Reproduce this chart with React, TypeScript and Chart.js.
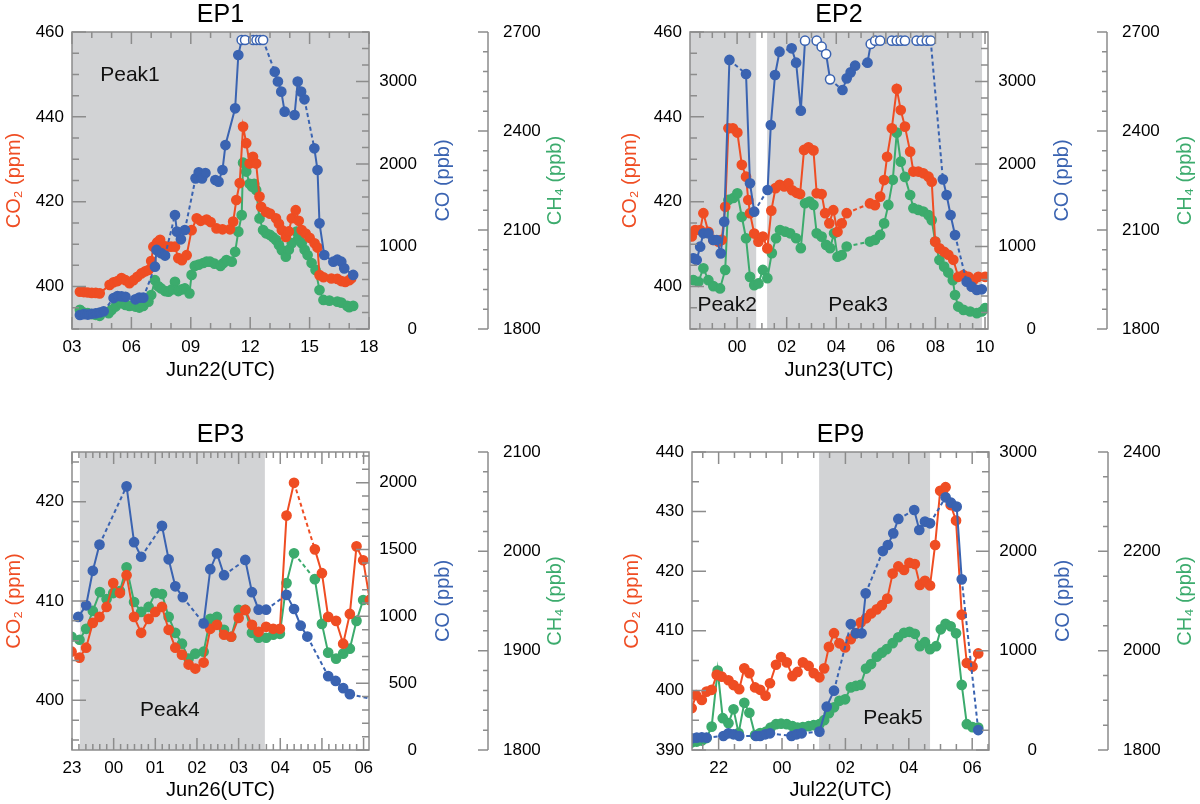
import React, { useEffect, useRef } from 'react';
import { Chart, registerables } from 'chart.js';

Chart.register(...registerables);

const RED = '#ef4d23';
const BLUE = '#3a63b1';
const GREEN = '#3cab6d';
const SHADE = '#d2d3d5';
const AXIS = '#8c8c8c';
const FONT = "'Liberation Sans', Arial, Helvetica, sans-serif";

// [hours, value] or [hours, value, 1] for flagged (open) points; null = data gap
type Pt = [number, number] | [number, number, number] | null;

// ---- EP1, Jun22 ----
const ep1Co2: Pt[] = [
  [3.4, 398.8], [3.6, 398.7], [3.8, 398.6], [4.0, 398.5], [4.2, 398.5], [4.4, 398.4], [4.9, 400.4], [5.1, 401.0],
  [5.3, 401.3], [5.5, 402.0], [5.7, 401.5], [5.9, 400.8], [6.1, 401.5], [6.3, 402.3], [6.5, 403.1], [6.7, 403.6],
  [6.86, 403.9], [7.0, 406.0], [7.11, 409.4], [7.3, 410.4], [7.45, 411.0], [7.6, 409.6], [7.79, 409.4], [8.0, 409.4],
  [8.2, 409.4], [8.37, 406.7], [8.55, 406.2], [8.79, 407.4], [9.04, 413.3], [9.3, 416.1], [9.5, 415.5], [9.8, 415.8],
  [10.0, 415.2], [10.3, 413.7], [10.6, 413.5], [10.98, 413.5], [11.14, 415.3], [11.3, 420.4], [11.47, 424.4],
  [11.64, 437.7], [11.8, 433.8], [11.97, 429.0], [12.14, 430.6], [12.3, 429.0], [12.47, 421.2], [12.55, 418.8],
  [12.8, 417.6], [13.0, 417.2], [13.3, 416.1], [13.45, 414.8], [13.6, 413.3], [13.8, 411.7], [13.95, 413.0],
  [14.1, 416.1], [14.3, 418.0], [14.45, 415.5], [14.6, 413.3], [14.8, 412.5], [15.0, 411.5], [15.25, 410.2],
  [15.4, 409.2], [15.5, 402.7], [15.7, 402.2], [16.1, 401.9], [16.4, 401.8], [16.6, 401.3], [16.8, 401.1],
  [17.0, 401.5], [17.1, 401.9],
];
const ep1Ch4: Pt[] = [
  [3.4, 1858], [3.6, 1850], [3.8, 1848], [4.0, 1845], [4.2, 1843], [4.4, 1840], [4.85, 1848], [5.0, 1858],
  [5.2, 1868], [5.5, 1878], [5.7, 1873], [5.9, 1870], [6.2, 1868], [6.4, 1865], [6.6, 1870], [6.86, 1883],
  [7.0, 1903], [7.19, 1948], [7.35, 1930], [7.5, 1923], [7.7, 1915], [7.87, 1913], [8.05, 1920], [8.2, 1943],
  [8.37, 1915], [8.55, 1920], [8.7, 1923], [8.93, 1908], [9.04, 1964], [9.2, 1991], [9.4, 1995], [9.63, 2000],
  [9.8, 2004], [9.97, 2004], [10.2, 1998], [10.5, 1991], [10.65, 2000], [10.8, 2009], [11.07, 2004], [11.24, 2034],
  [11.4, 2095], [11.57, 2145], [11.64, 2304], [11.8, 2277], [11.97, 2240], [12.1, 2231], [12.2, 2240], [12.3, 2221],
  [12.47, 2135], [12.65, 2100], [12.8, 2090], [13.0, 2085], [13.15, 2078], [13.3, 2070], [13.45, 2055], [13.6, 2039],
  [13.8, 2019], [13.95, 2040], [14.1, 2060], [14.34, 2095], [14.45, 2075], [14.6, 2060], [14.75, 2040], [14.9, 2024],
  [15.1, 2000], [15.3, 1979], [15.5, 1918], [15.7, 1888], [16.0, 1886], [16.4, 1883], [16.6, 1880], [16.9, 1870],
  [17.0, 1866], [17.2, 1870],
];
const ep1Co: Pt[] = [
  [3.4, 170], [3.6, 180], [3.8, 175], [4.0, 185], [4.2, 190], [4.4, 200], [4.6, 215], null,
  [5.1, 375], [5.3, 400], [5.5, 395], [5.7, 390], null, [6.2, 360], [6.4, 380], [6.6, 380], null,
  [7.19, 755], [7.27, 958], [7.5, 920], [7.7, 890], null, [8.2, 1382], [8.3, 1180], [8.5, 1087], [8.7, 1200], null,
  [9.24, 1826], [9.4, 1900], [9.57, 1826], [9.74, 1890], null, [10.24, 1806], [10.4, 1786], [10.6, 1927],
  [10.75, 2230], [11.24, 2675], [11.4, 3321], [11.57, 3503, 1], [11.74, 3503, 1], null,
  [12.15, 3503, 1], [12.32, 3503, 1], [12.5, 3503, 1], [12.65, 3503, 1], null,
  [13.24, 3119], [13.4, 3000], [13.57, 2877], [13.74, 2634], null, [14.24, 2594], [14.4, 3000], [14.57, 2877],
  [14.74, 2784], null, [15.24, 2190], [15.4, 1927], [15.5, 1281], [15.74, 897], [16.2, 816], [16.4, 840],
  [16.6, 816], [16.75, 735], [17.2, 655],
];

// ---- EP2, Jun23 ----
const ep2Co2: Pt[] = [
  [-1.83, 411.8], [-1.69, 413.3], [-1.49, 413.3], [-1.36, 417.3], [-1.16, 412.9], [-0.96, 411.0], [-0.75, 410.6],
  [-0.62, 411.0], [-0.48, 418.8], [-0.35, 437.3], [-0.17, 437.3], [0.01, 436.3], [0.19, 428.7], [0.36, 425.9],
  [0.45, 420.4], [0.52, 417.3], [0.69, 412.5], [0.86, 410.6], [1.04, 411.8], [1.22, 409.0], [1.38, 417.9],
  [1.55, 423.2], [1.72, 424.0], [1.9, 423.6], [2.07, 424.3], [2.22, 422.7], [2.4, 422.1], [2.54, 421.8],
  [2.7, 432.2], [2.88, 432.8], [3.08, 432.1], [3.21, 422.0], [3.41, 421.8], [3.55, 417.3], [3.72, 414.9],
  [3.88, 418.0], [4.05, 412.9], [4.22, 414.9], [4.42, 417.3], null, [5.36, 419.6], [5.56, 419.2], [5.77, 421.2],
  [5.93, 425.1], [6.05, 430.6], [6.24, 437.3], [6.44, 446.6], [6.6, 441.6], [6.77, 437.7], [6.98, 431.8],
  [7.11, 427.1], [7.31, 427.1], [7.51, 426.7], [7.72, 425.9], [7.85, 424.7], [7.99, 410.6], [8.16, 409.0],
  [8.35, 408.2], [8.52, 407.5], [8.72, 406.3], [8.92, 402.3], [9.13, 402.7], [9.33, 402.3], [9.53, 401.5],
  [9.73, 402.3], [10.0, 402.3],
];
const ep2Ch4: Pt[] = [
  [-1.76, 1948], [-1.56, 1943], [-1.36, 1984], [-1.16, 1948], [-0.96, 1930], [-0.69, 1923], [-0.48, 1979],
  [-0.35, 2191], [-0.15, 2197], [0.01, 2211], [0.19, 2140], [0.36, 2075], [0.52, 1958], [0.69, 1933], [0.86, 1938],
  [1.04, 1979], [1.22, 1954], [1.4, 2030], [1.57, 2075], [1.73, 2100], [1.94, 2095], [2.14, 2090], [2.38, 2075],
  [2.57, 2045], [2.74, 2181], [2.92, 2186], [3.08, 2176], [3.21, 2090], [3.41, 2080], [3.59, 2055], [3.75, 2045],
  [3.91, 2090], [4.05, 2019], [4.22, 2024], [4.42, 2050], null, [5.36, 2065], [5.56, 2070], [5.77, 2085],
  [5.93, 2120], [6.1, 2176], [6.28, 2252], [6.44, 2395], [6.6, 2307], [6.77, 2261], [6.98, 2206], [7.11, 2166],
  [7.31, 2161], [7.51, 2156], [7.72, 2145], [7.85, 2130], [7.99, 2065], [8.16, 2009], [8.35, 1989], [8.52, 1971],
  [8.7, 1948], [8.79, 1903], [8.92, 1868], [9.13, 1858], [9.4, 1853], [9.67, 1848], [9.87, 1853], [10.0, 1863],
];
const ep2Co: Pt[] = [
  [-1.76, 857], [-1.63, 837], [-1.49, 998], [-1.36, 1160], [-1.16, 1160], [-0.96, 1079], [-0.82, 1079],
  [-0.66, 917], [-0.52, 1301], [-0.31, 3261], null, [0.36, 3091], [0.52, 1766], [0.69, 1422], null,
  [1.23, 1685], [1.36, 2473], [1.53, 3079], [1.71, 3361], null, [2.2, 3402], [2.38, 3228], [2.57, 2646],
  [2.74, 3495, 1], null, [3.21, 3495, 1], [3.41, 3422, 1], [3.59, 3333, 1], [3.75, 3026, 1], null,
  [4.25, 2897], [4.42, 3038], [4.58, 3111], [4.76, 3192], null, [5.26, 3228], [5.39, 3455, 1], [5.57, 3495, 1],
  [5.77, 3495, 1], null, [6.24, 3495, 1], [6.44, 3495, 1], [6.6, 3495, 1], [6.77, 3495, 1], null,
  [7.24, 3495, 1], [7.44, 3495, 1], [7.65, 3495, 1], [7.81, 3495, 1], null, [8.3, 1814], [8.45, 1624],
  [8.61, 1382], [8.79, 1139], null, [9.26, 573], [9.46, 513], [9.67, 473], [9.87, 481],
];

// ---- EP3, Jun26 ----
const ep3Co2: Pt[] = [
  [-1.01, 404.9], [-0.82, 404.3], [-0.66, 405.3], [-0.5, 407.8], [-0.34, 408.4], [-0.17, 409.4], [-0.01, 411.8],
  [0.15, 410.8], [0.31, 412.6], [0.49, 408.4], [0.66, 406.8], [0.84, 408.2], [1.0, 408.9], [1.16, 409.4],
  [1.32, 407.1], [1.48, 405.3], [1.64, 404.6], [1.8, 403.6], [1.96, 403.2], [2.16, 403.8], [2.32, 407.2],
  [2.48, 407.6], [2.65, 406.6], [2.82, 406.4], [3.0, 408.3], [3.16, 409.1], [3.32, 407.6], [3.48, 406.9],
  [3.66, 407.4], [3.83, 407.2], [3.99, 407.2], [4.15, 418.6], [4.33, 421.9], null, [4.83, 415.2], [5.0, 412.8],
  [5.15, 408.4], [5.34, 408.0], [5.51, 405.7], [5.67, 408.7], [5.83, 415.5], [5.99, 414.1], [6.15, 410.1],
];
const ep3Ch4: Pt[] = [
  [-1.01, 1914], [-0.82, 1911], [-0.66, 1922], [-0.5, 1940], [-0.33, 1959], [-0.17, 1952], [-0.01, 1958],
  [0.15, 1960], [0.31, 1984], [0.49, 1949], [0.66, 1939], [0.84, 1944], [1.0, 1958], [1.16, 1957], [1.32, 1934],
  [1.48, 1918], [1.64, 1907], [1.8, 1892], [1.96, 1897], [2.16, 1899], [2.32, 1932], [2.48, 1934], [2.65, 1921],
  [2.82, 1914], [3.0, 1941], [3.16, 1941], [3.32, 1918], [3.48, 1913], [3.66, 1913], [3.83, 1916], [3.99, 1917],
  [4.15, 1968], [4.33, 1998], null, [4.83, 1972], [5.0, 1927], [5.15, 1898], [5.34, 1892], [5.51, 1897],
  [5.67, 1902], [5.83, 1930], [5.99, 1951], [6.15, 1951],
];
const ep3Co: Pt[] = [
  [-0.85, 996], [-0.66, 1083], [-0.5, 1341], [-0.34, 1537], null, [0.31, 1973], [0.49, 1555], [0.66, 1446], null,
  [1.16, 1677], [1.32, 1427], [1.48, 1225], [1.66, 1144], null, [2.16, 947], [2.32, 1353], [2.48, 1471],
  [2.65, 1308], null, [3.16, 1422], [3.32, 1181], [3.48, 1050], [3.66, 1050], null, [4.15, 1161], [4.33, 1055],
  [4.49, 930], [4.65, 849], null, [5.15, 553], [5.33, 517], [5.51, 463], [5.67, 418], null, [6.5, 360],
];

// ---- EP9, Jul22 ----
const ep9Co2: Pt[] = [
  [-2.85, 397.0], [-2.71, 399.2], [-2.53, 398.4], [-2.38, 399.8], [-2.22, 400.1], [-2.06, 402.6], [-1.9, 402.3],
  [-1.69, 401.7], [-1.53, 400.9], [-1.35, 400.2], [-1.19, 403.7], [-1.03, 402.9], [-0.85, 400.5], [-0.69, 400.1],
  [-0.52, 399.1], [-0.38, 401.2], [-0.19, 404.3], [-0.03, 405.6], [0.15, 404.7], [0.33, 402.4], [0.49, 403.1],
  [0.66, 404.7], [0.84, 404.1], [1.0, 402.9], [1.18, 402.2], [1.33, 403.7], [1.48, 407.3], [1.64, 409.6],
  [1.81, 407.9], [1.99, 407.2], [2.17, 408.6], [2.33, 409.6], [2.48, 411.4], [2.65, 412.1], [2.81, 412.9],
  [2.99, 413.6], [3.15, 414.3], [3.32, 415.4], [3.49, 419.6], [3.67, 420.8], [3.85, 420.2], [4.02, 421.4],
  [4.19, 421.2], [4.35, 417.7], [4.51, 418.4], [4.67, 417.6], [4.83, 424.4], [4.99, 433.5], [5.16, 434.1],
  [5.32, 431.1], [5.49, 428.5], [5.67, 412.7], [5.83, 404.6], [6.01, 404.0], [6.19, 406.2],
];
const ep9Ch4: Pt[] = [
  [-2.85, 1815], [-2.69, 1817], [-2.53, 1819], [-2.38, 1824], [-2.22, 1847], [-2.03, 1960], [-1.87, 1864],
  [-1.69, 1854], [-1.53, 1882], [-1.37, 1834], [-1.19, 1895], [-1.03, 1875], [-0.85, 1830], [-0.69, 1834],
  [-0.5, 1837], [-0.36, 1845], [-0.19, 1852], [-0.03, 1853], [0.15, 1852], [0.33, 1848], [0.49, 1845],
  [0.66, 1846], [0.84, 1848], [1.0, 1850], [1.18, 1852], [1.33, 1860], [1.48, 1874], [1.64, 1886], [1.81, 1899],
  [1.99, 1902], [2.17, 1926], [2.33, 1929], [2.48, 1931], [2.65, 1964], [2.81, 1973], [2.99, 1988], [3.15, 1996],
  [3.3, 2003], [3.49, 2015], [3.67, 2027], [3.85, 2036], [4.02, 2038], [4.19, 2034], [4.35, 2009], [4.51, 2017],
  [4.67, 2003], [4.86, 2009], [5.01, 2043], [5.16, 2054], [5.32, 2049], [5.49, 2035], [5.67, 1931], [5.83, 1852],
  [6.01, 1846], [6.19, 1845],
];
const ep9Co: Pt[] = [
  [-2.85, 117], [-2.69, 124], [-2.53, 128], [-2.38, 124], null, [-1.85, 141], [-1.69, 168], [-1.53, 158],
  [-1.35, 141], null, [-0.82, 141], [-0.69, 141], [-0.53, 158], [-0.38, 168], null, [0.3, 141], [0.46, 158],
  [0.62, 168], null, [1.18, 185], [1.41, 436], [1.64, 597], null, [2.17, 1268], [2.33, 1175], [2.51, 1175],
  [2.64, 1577], null, [3.18, 2003], [3.34, 2064], [3.51, 2181], [3.67, 2326], null, [4.17, 2416], [4.33, 2215],
  [4.51, 2299], [4.67, 2282], null, [5.16, 2544], [5.33, 2490], [5.51, 2450], [5.67, 1718], null, [6.19, 201],
];

interface AxisSpec { min: number; max: number; step: number; minor: number }
interface Peak { text: string; x: number; y: number }
interface PanelSpec {
  left: number; top: number;
  title: string; xTitle: string;
  x: AxisSpec; co2: AxisSpec; co: AxisSpec; ch4: AxisSpec;
  shades: [number, number][];
  peaks: Peak[];
  co2Data: Pt[]; coData: Pt[]; ch4Data: Pt[];
  leftW: number; coW: number; gapW: number; ch4W: number; xAxisH: number;
  leftTitlePad: number; coTitleOff: number; ch4TitleOff: number;
}

const panels: PanelSpec[] = [
  {
    left: 0, top: 0, title: 'EP1', xTitle: 'Jun22(UTC)',
    x: { min: 3, max: 18, step: 3, minor: 1 },
    co2: { min: 390, max: 460, step: 20, minor: 5 },
    co: { min: 0, max: 3600, step: 1000, minor: 200 },
    ch4: { min: 1800, max: 2700, step: 300, minor: 60 },
    shades: [[3, 18]],
    peaks: [{ text: 'Peak1', x: 5.93, y: 449.9 }],
    co2Data: ep1Co2, coData: ep1Co, ch4Data: ep1Ch4,
    leftW: 72, coW: 48, gapW: 71, ch4W: 112, xAxisH: 55,
    leftTitlePad: 2, coTitleOff: 74, ch4TitleOff: 67,
  },
  {
    left: 600, top: 0, title: 'EP2', xTitle: 'Jun23(UTC)',
    x: { min: -1.9, max: 10.12, step: 2, minor: 0.5 },
    co2: { min: 390, max: 460, step: 20, minor: 5 },
    co: { min: 0, max: 3600, step: 1000, minor: 200 },
    ch4: { min: 1800, max: 2700, step: 300, minor: 60 },
    shades: [[-1.9, 0.77], [1.21, 9.88]],
    peaks: [{ text: 'Peak2', x: -0.4, y: 395.7 }, { text: 'Peak3', x: 4.88, y: 395.7 }],
    co2Data: ep2Co2, coData: ep2Co, ch4Data: ep2Ch4,
    leftW: 90, coW: 48, gapW: 71, ch4W: 93, xAxisH: 55,
    leftTitlePad: 18, coTitleOff: 74, ch4TitleOff: 78,
  },
  {
    left: 0, top: 420, title: 'EP3', xTitle: 'Jun26(UTC)',
    x: { min: -1, max: 6.13, step: 1, minor: 1 / 6 },
    co2: { min: 395, max: 425, step: 10, minor: 2 },
    co: { min: 0, max: 2230, step: 500, minor: 100 },
    ch4: { min: 1800, max: 2100, step: 100, minor: 20 },
    shades: [[-0.81, 3.63]],
    peaks: [{ text: 'Peak4', x: 1.35, y: 399 }],
    co2Data: ep3Co2, coData: ep3Co, ch4Data: ep3Ch4,
    leftW: 72, coW: 48, gapW: 71, ch4W: 112, xAxisH: 54,
    leftTitlePad: 2, coTitleOff: 74, ch4TitleOff: 67,
  },
  {
    left: 600, top: 420, title: 'EP9', xTitle: 'Jul22(UTC)',
    x: { min: -2.84, max: 6.53, step: 2, minor: 0.5 },
    co2: { min: 390, max: 440, step: 10, minor: 5 },
    co: { min: 0, max: 3000, step: 1000, minor: 200 },
    ch4: { min: 1800, max: 2400, step: 200, minor: 50 },
    shades: [[1.17, 4.67]],
    peaks: [{ text: 'Peak5', x: 3.5, y: 395.4 }],
    co2Data: ep9Co2, coData: ep9Co, ch4Data: ep9Ch4,
    leftW: 92, coW: 48, gapW: 71, ch4W: 92, xAxisH: 54,
    leftTitlePad: 20, coTitleOff: 74, ch4TitleOff: 77,
  },
];

function steps(min: number, max: number, step: number): number[] {
  const out: number[] = [];
  const n0 = Math.ceil(min / step - 1e-6);
  const n1 = Math.floor(max / step + 1e-6);
  for (let n = n0; n <= n1; n++) out.push(+(n * step).toFixed(6));
  return out;
}
const isMajor = (v: number, major: number) => Math.abs(v / major - Math.round(v / major)) < 1e-4;
const hh = (v: number) => String(((Math.round(v) % 24) + 24) % 24).padStart(2, '0');

function toPoints(arr: Pt[]) {
  return arr.map((p, i) => {
    if (p) return { x: p[0], y: p[1], open: p[2] === 1 };
    const a = arr[i - 1] as number[];
    const b = arr[i + 1] as number[];
    return { x: (a[0] + b[0]) / 2, y: null, open: false };
  });
}

function makePlugin(spec: PanelSpec) {
  return {
    id: 'frameTicks',
    beforeDatasetsDraw(chart: any) {
      const { ctx, chartArea: a } = chart;
      const xs = chart.scales.x;
      ctx.save();
      ctx.fillStyle = SHADE;
      spec.shades.forEach(([s, e]) => {
        const l = Math.max(a.left, xs.getPixelForValue(s));
        const r = Math.min(a.right, xs.getPixelForValue(e));
        ctx.fillRect(l, a.top, r - l, a.bottom - a.top);
      });
      ctx.restore();
    },
    afterDatasetsDraw(chart: any) {
      const { ctx, chartArea: a } = chart;
      const { x: xs, y: ys, y1, y2 } = chart.scales;
      ctx.save();
      ctx.strokeStyle = AXIS;
      ctx.lineWidth = 1.5;
      ctx.beginPath();
      steps(spec.x.min, spec.x.max, spec.x.minor).forEach((v) => {
        const px = xs.getPixelForValue(v);
        const len = isMajor(v, spec.x.step) ? 12 : 6;
        ctx.moveTo(px, a.bottom); ctx.lineTo(px, a.bottom - len);
        ctx.moveTo(px, a.top); ctx.lineTo(px, a.top + len);
      });
      steps(spec.co2.min, spec.co2.max, spec.co2.minor).forEach((v) => {
        const py = ys.getPixelForValue(v);
        const len = isMajor(v, spec.co2.step) ? 14 : 7;
        ctx.moveTo(a.left, py); ctx.lineTo(a.left + len, py);
      });
      steps(spec.co.min, spec.co.max, spec.co.minor).forEach((v) => {
        const py = y1.getPixelForValue(v);
        const len = isMajor(v, spec.co.step) ? 13 : 7;
        ctx.moveTo(a.right, py); ctx.lineTo(a.right - len, py);
      });
      const cx = y2.left;
      ctx.moveTo(cx, a.top); ctx.lineTo(cx, a.bottom);
      steps(spec.ch4.min, spec.ch4.max, spec.ch4.minor).forEach((v) => {
        const py = y2.getPixelForValue(v);
        const len = isMajor(v, spec.ch4.step) ? 10 : 5;
        ctx.moveTo(cx, py); ctx.lineTo(cx - len, py);
      });
      ctx.stroke();
      ctx.strokeRect(a.left, a.top, a.right - a.left, a.bottom - a.top);

      ctx.fillStyle = '#111';
      ctx.font = `21px ${FONT}`;
      ctx.textAlign = 'center';
      ctx.textBaseline = 'middle';
      spec.peaks.forEach((p) => {
        ctx.fillText(p.text, xs.getPixelForValue(p.x), ys.getPixelForValue(p.y));
      });

      const midY = (a.top + a.bottom) / 2;
      ctx.font = `20px ${FONT}`;
      const vertical = (text: string, x: number, color: string) => {
        ctx.save();
        ctx.translate(x, midY);
        ctx.rotate(-Math.PI / 2);
        ctx.fillStyle = color;
        ctx.fillText(text, 0, 0);
        ctx.restore();
      };
      vertical('CO (ppb)', a.right + spec.coTitleOff, BLUE);
      vertical('CH\u2084 (ppb)', cx + spec.ch4TitleOff, GREEN);
      ctx.restore();
    },
  };
}

function series(label: string, data: Pt[], axis: string, color: string) {
  return {
    label,
    data: toPoints(data),
    yAxisID: axis,
    borderColor: color,
    backgroundColor: color,
    borderWidth: 2,
    pointRadius: 4.6,
    pointBorderWidth: 1.5,
    pointBorderColor: color,
    pointBackgroundColor: (c: any) => (c.raw && c.raw.open ? '#ffffff' : color),
    spanGaps: true,
    tension: 0,
    segment: {
      borderDash: (c: any) => (c.p0.skip || c.p1.skip ? [4, 3] : undefined),
    },
  };
}

const tickFont = { size: 17, family: FONT };
const titleFont = { size: 20, family: FONT };

function yAxis(spec: AxisSpec, position: string, width: number, extra: any) {
  return {
    type: 'linear',
    position,
    min: spec.min,
    max: spec.max,
    grid: { display: false, drawTicks: false },
    border: { display: false },
    afterBuildTicks: (s: any) => {
      s.ticks = steps(spec.min, spec.max, spec.step).map((value) => ({ value }));
    },
    afterFit: (s: any) => {
      s.width = width;
    },
    ...extra,
    ticks: { font: tickFont, color: '#000', callback: (v: any) => String(v), ...extra.ticks },
  };
}

function PanelChart({ spec }: { spec: PanelSpec }) {
  const ref = useRef<HTMLCanvasElement | null>(null);

  useEffect(() => {
    if (!ref.current) return;
    const chart = new Chart(ref.current, {
      type: 'line',
      data: {
        datasets: [
          series('CO', spec.coData, 'y1', BLUE),
          series('CO2', spec.co2Data, 'y', RED),
          series('CH4', spec.ch4Data, 'y2', GREEN),
        ] as any,
      },
      options: {
        responsive: false,
        animation: false,
        events: [],
        layout: { padding: 0 },
        plugins: {
          legend: { display: false },
          tooltip: { enabled: false },
          title: {
            display: true,
            text: spec.title,
            color: '#000',
            font: { size: 25, weight: 'normal', family: FONT },
            padding: { top: 0, bottom: 2 },
            fullSize: false,
          },
        },
        scales: {
          x: {
            type: 'linear',
            min: spec.x.min,
            max: spec.x.max,
            grid: { display: false, drawTicks: false },
            border: { display: false },
            ticks: { font: tickFont, color: '#000', padding: 8, maxRotation: 0, autoSkip: false, callback: (v: any) => hh(Number(v)) },
            title: { display: true, text: spec.xTitle, color: '#000', font: titleFont, padding: { top: 0, bottom: 2 } },
            afterBuildTicks: (s: any) => {
              s.ticks = steps(spec.x.min, spec.x.max, spec.x.step).map((value) => ({ value }));
            },
            afterFit: (s: any) => {
              s.height = spec.xAxisH;
            },
          },
          y: yAxis(spec.co2, 'left', spec.leftW, {
            ticks: { padding: 8 },
            title: { display: true, text: 'CO\u2082 (ppm)', color: RED, font: titleFont, padding: { top: spec.leftTitlePad, bottom: 0 } },
          }),
          y1: yAxis(spec.co, 'right', spec.coW, { weight: 0, ticks: { padding: 10, crossAlign: 'far' } }),
          // empty spacer between the CO labels and the detached CH4 axis
          gap: {
            type: 'linear',
            position: 'right',
            weight: 1,
            min: 0,
            max: 1,
            grid: { display: false, drawTicks: false },
            border: { display: false },
            ticks: { display: false },
            afterFit: (s: any) => {
              s.width = spec.gapW;
            },
          },
          y2: yAxis(spec.ch4, 'right', spec.ch4W, { weight: 2, ticks: { padding: 15 } }),
        } as any,
      },
      plugins: [makePlugin(spec)],
    });
    return () => chart.destroy();
  }, [spec]);

  return <canvas ref={ref} width={600} height={384} style={{ display: 'block' }} />;
}

export default function App() {
  return (
    <div style={{ position: 'absolute', left: 0, top: 0, width: 1200, height: 804, background: '#fff' }}>
      {panels.map((p) => (
        <div key={p.title} style={{ position: 'absolute', left: p.left, top: p.top, width: 600, height: 384 }}>
          <PanelChart spec={p} />
        </div>
      ))}
    </div>
  );
}
